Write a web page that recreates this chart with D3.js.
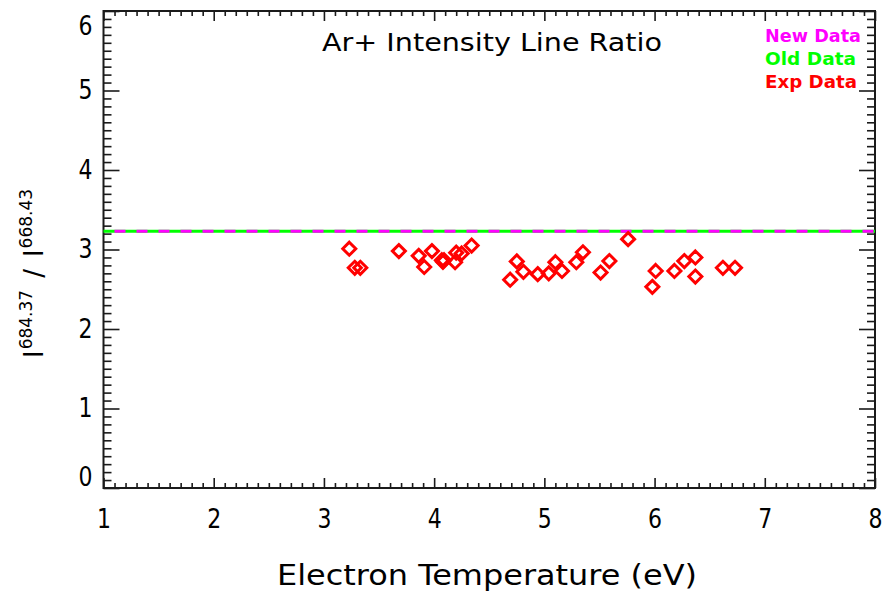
<!DOCTYPE html>
<html>
<head>
<meta charset="utf-8">
<script src="https://cdn.jsdelivr.net/npm/d3@7"></script>
<style>
  html, body { margin: 0; padding: 0; background: #fff; }
  svg { display: block; }
  text { font-family: "DejaVu Sans", "Liberation Sans", sans-serif; }
</style>
</head>
<body>
<svg id="chart" width="886" height="593"></svg>
<script>
// Axis ticks
const xTicks = [1, 2, 3, 4, 5, 6, 7, 8];
const yTicks = [0, 1, 2, 3, 4, 5, 6];

// Measured line ratio vs electron temperature
const expTemperature = [3.23, 3.28, 3.33, 3.68, 3.86, 3.91, 3.98, 4.07, 4.09, 4.08,
                        4.19, 4.20, 4.25, 4.34, 4.69, 4.75, 4.81, 4.94, 5.04, 5.10,
                        5.16, 5.29, 5.35, 5.51, 5.59, 5.76, 5.98, 6.01, 6.18, 6.27,
                        6.37, 6.37, 6.62, 6.73];
const expRatio = [3.01, 2.77, 2.77, 2.98, 2.92, 2.78, 2.98, 2.865, 2.865, 2.845,
                  2.84, 2.96, 2.95, 3.05, 2.62, 2.85, 2.72, 2.69, 2.70, 2.84,
                  2.73, 2.84, 2.965, 2.71, 2.855, 3.13, 2.53, 2.73, 2.73, 2.855,
                  2.90, 2.66, 2.77, 2.77];

// Model curves (flat across the temperature range)
const modelTemperature = [1, 8];
const newDataRatio = [3.23, 3.23];
const oldDataRatio = [3.23, 3.23];

const legendLabels = ["New Data", "Old Data", "Exp Data"];
const legendColors = ["#ff00ff", "#00ff00", "#ff0000"];

const plot = { left: 103.5, right: 875, top: 11, bottom: 488 };
const svg = d3.select("#chart");

const x = d3.scaleLinear().domain([1, 8]).range([plot.left, plot.right]);
const y = d3.scaleLinear().domain([0, 6]).range([plot.bottom, plot.top]);

const xMinor = d3.range(10, 81).map(v => v / 10).filter(v => !Number.isInteger(v));
const yMinor = d3.range(0, 61).map(v => v / 10).filter(v => !Number.isInteger(v));

const axisColor = "#1a1a1a";

function styleAxis(g) {
  g.select(".domain").remove();
  g.selectAll(".tick line").attr("stroke", axisColor).attr("stroke-width", 1.6);
}

// bottom axis
svg.append("g").attr("transform", `translate(0,${plot.bottom})`)
  .call(d3.axisBottom(x).tickValues(xMinor).tickSize(-5).tickFormat(""))
  .call(styleAxis);
const bottomAxis = svg.append("g").attr("transform", `translate(0,${plot.bottom})`)
  .call(d3.axisBottom(x).tickValues(xTicks).tickSize(-10).tickPadding(22).tickFormat(d3.format("d")))
  .call(styleAxis);
bottomAxis.selectAll(".tick text")
  .attr("font-size", 26).attr("font-family", null)
  .attr("textLength", 14).attr("lengthAdjust", "spacingAndGlyphs")
  .style("fill", "#000");

// top axis
svg.append("g").attr("transform", `translate(0,${plot.top})`)
  .call(d3.axisTop(x).tickValues(xMinor).tickSize(-5).tickFormat(""))
  .call(styleAxis);
svg.append("g").attr("transform", `translate(0,${plot.top})`)
  .call(d3.axisTop(x).tickValues(xTicks).tickSize(-10).tickFormat(""))
  .call(styleAxis);

// left axis
svg.append("g").attr("transform", `translate(${plot.left},0)`)
  .call(d3.axisLeft(y).tickValues(yMinor).tickSize(-8).tickFormat(""))
  .call(styleAxis);
const leftAxis = svg.append("g").attr("transform", `translate(${plot.left},0)`)
  .call(d3.axisLeft(y).tickValues(yTicks).tickSize(-16).tickPadding(11).tickFormat(d3.format("d")))
  .call(styleAxis);
leftAxis.selectAll(".tick text")
  .attr("font-size", 26).attr("font-family", null)
  .attr("textLength", 14).attr("lengthAdjust", "spacingAndGlyphs")
  .style("fill", "#000")
  .attr("y", d => {
    // keep the end labels inside the frame
    const py = y(d);
    const c = Math.max(plot.top + 15, Math.min(plot.bottom - 11, py));
    return c - py;
  });

// right axis
svg.append("g").attr("transform", `translate(${plot.right},0)`)
  .call(d3.axisRight(y).tickValues(yMinor).tickSize(-8).tickFormat(""))
  .call(styleAxis);
svg.append("g").attr("transform", `translate(${plot.right},0)`)
  .call(d3.axisRight(y).tickValues(yTicks).tickSize(-16).tickFormat(""))
  .call(styleAxis);

// frame
svg.append("rect")
  .attr("x", plot.left).attr("y", plot.top)
  .attr("width", plot.right - plot.left).attr("height", plot.bottom - plot.top)
  .attr("fill", "none").attr("stroke", axisColor).attr("stroke-width", 2);

// model lines: old (green) underneath, new (magenta) dashed on top
const line = d3.line().x(d => x(d[0])).y(d => y(d[1]));
svg.append("path")
  .datum(d3.zip(modelTemperature, oldDataRatio))
  .attr("d", line).attr("fill", "none")
  .attr("stroke", legendColors[1]).attr("stroke-width", 3);
svg.append("path")
  .datum(d3.zip(modelTemperature, newDataRatio))
  .attr("d", line).attr("fill", "none")
  .attr("stroke", legendColors[0]).attr("stroke-width", 3)
  .attr("stroke-dasharray", "11,11").attr("stroke-dashoffset", -11);

// experimental points: open diamonds
const r = 6.5;
svg.append("g").selectAll("path")
  .data(d3.zip(expTemperature, expRatio))
  .join("path")
  .attr("transform", d => `translate(${x(d[0])},${y(d[1])})`)
  .attr("d", `M0,${-r}L${r},0L0,${r}L${-r},0Z`)
  .attr("fill", "none").attr("stroke", legendColors[2]).attr("stroke-width", 3);

// title
svg.append("text")
  .attr("x", 322).attr("y", 51)
  .attr("font-size", 24)
  .attr("textLength", 340).attr("lengthAdjust", "spacingAndGlyphs")
  .style("fill", "#000")
  .text("Ar+ Intensity Line Ratio");

// legend
const legendY = [42, 65, 88];
svg.append("g").selectAll("text")
  .data(legendLabels)
  .join("text")
  .attr("x", 765).attr("y", (d, i) => legendY[i])
  .attr("font-size", 18)
  .attr("font-weight", "bold")
  .style("fill", (d, i) => legendColors[i])
  .attr("textLength", (d, i) => [96, 91, 92][i]).attr("lengthAdjust", "spacingAndGlyphs")
  .text(d => d);

// x axis title
svg.append("text")
  .attr("x", 277).attr("y", 585)
  .attr("font-size", 28)
  .attr("textLength", 420).attr("lengthAdjust", "spacingAndGlyphs")
  .style("fill", "#000")
  .text("Electron Temperature (eV)");

// y axis title: I^684.37 / I^668.43
const yTitle = svg.append("text")
  .attr("transform", "translate(43,358) rotate(-90)")
  .attr("font-size", 26)
  .style("fill", "#000");
yTitle.append("tspan").text("I");
yTitle.append("tspan").attr("font-size", 17).attr("dy", -11).attr("dx", 1).text("684.37");
yTitle.append("tspan").attr("dy", 11).attr("dx", 12).text("/");
yTitle.append("tspan").attr("dx", 12).text("I");
yTitle.append("tspan").attr("font-size", 17).attr("dy", -11).attr("dx", 1).text("668.43");
</script>
</body>
</html>
